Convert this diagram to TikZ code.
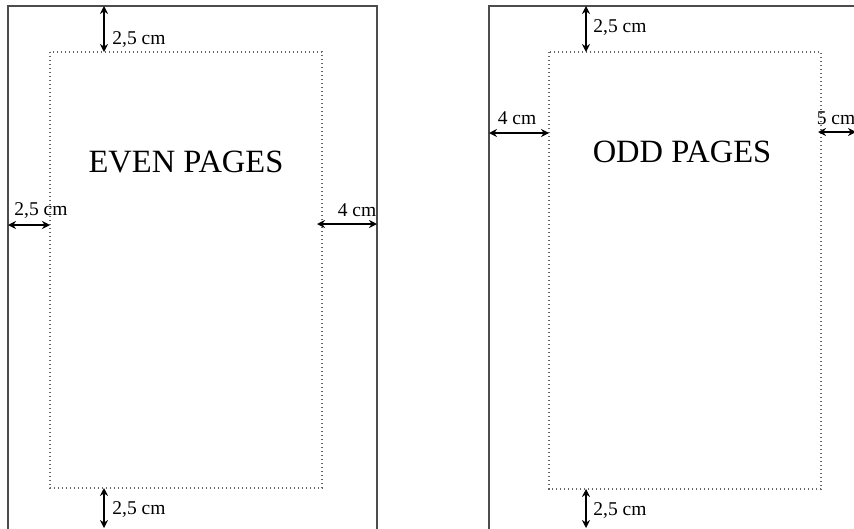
\documentclass[tikz,border=0pt]{standalone}
\usepackage{fontspec}
\setmainfont{Liberation Serif}
\usetikzlibrary{arrows.meta}
\begin{document}
\begin{tikzpicture}[x=1pt,y=-1pt,
  page/.style={draw=black!70,line width=1.4pt},
  margin/.style={draw=black!60,line width=1.3pt,dash pattern=on 1.3pt off 2.7pt},
  dim/.style={<->,>={Stealth[length=8pt,width=8pt]},line width=1.6pt,black},
  lbl/.style={inner sep=0pt,font=\fontsize{19.5}{22}\selectfont},
  title/.style={inner sep=0pt,font=\fontsize{32.5}{36}\selectfont}]
\useasboundingbox (0,0) rectangle (854,528);
\clip (0,0) rectangle (854,528);
% left page
\coordinate (LTL) at (8,6); \coordinate (LBR) at (377,540);
\coordinate (lTL) at (50,52); \coordinate (lBR) at (322,488);
\draw[page] (LTL) rectangle (LBR);
\draw[margin] (lTL) rectangle (lBR);
\coordinate (lt1) at (104,6); \coordinate (lt2) at (104,52);
\draw[dim] (lt1) -- (lt2);
\node[lbl] (lTop) at (139,40) {2,5 cm};
\coordinate (lb1) at (104,488); \coordinate (lb2) at (104,528);
\draw[dim] (lb1) -- (lb2);
\node[lbl] (lBot) at (139,510) {2,5 cm};
\coordinate (ll1) at (8,225); \coordinate (ll2) at (50,225);
\draw[dim] (ll1) -- (ll2);
\node[lbl] (lLeft) at (41,211) {2,5 cm};
\coordinate (lr1) at (317,224); \coordinate (lr2) at (377,224);
\draw[dim] (lr1) -- (lr2);
\node[lbl] (lRight) at (357,210) {4 cm};
\node[title] (even) at (186,162) {EVEN PAGES};
% right page
\coordinate (RTL) at (489,6); \coordinate (RBR) at (900,540);
\coordinate (rTL) at (549,52); \coordinate (rBR) at (821,489);
\draw[page] (RTL) rectangle (RBR);
\draw[margin] (rTL) rectangle (rBR);
\coordinate (rt1) at (586,6); \coordinate (rt2) at (586,52);
\draw[dim] (rt1) -- (rt2);
\node[lbl] (rTop) at (620,28) {2,5 cm};
\coordinate (rb1) at (586,489); \coordinate (rb2) at (586,528);
\draw[dim] (rb1) -- (rb2);
\node[lbl] (rBot) at (620,511) {2,5 cm};
\coordinate (rl1) at (489,133); \coordinate (rl2) at (549,133);
\draw[dim] (rl1) -- (rl2);
\node[lbl] (rLeft) at (517,118) {4 cm};
\coordinate (rr1) at (818,132); \coordinate (rr2) at (856,132);
\draw[dim] (rr1) -- (rr2);
\node[lbl] (rRight) at (836,118) {5 cm};
\node[title] (odd) at (682,152) {ODD PAGES};
\end{tikzpicture}
\end{document}
